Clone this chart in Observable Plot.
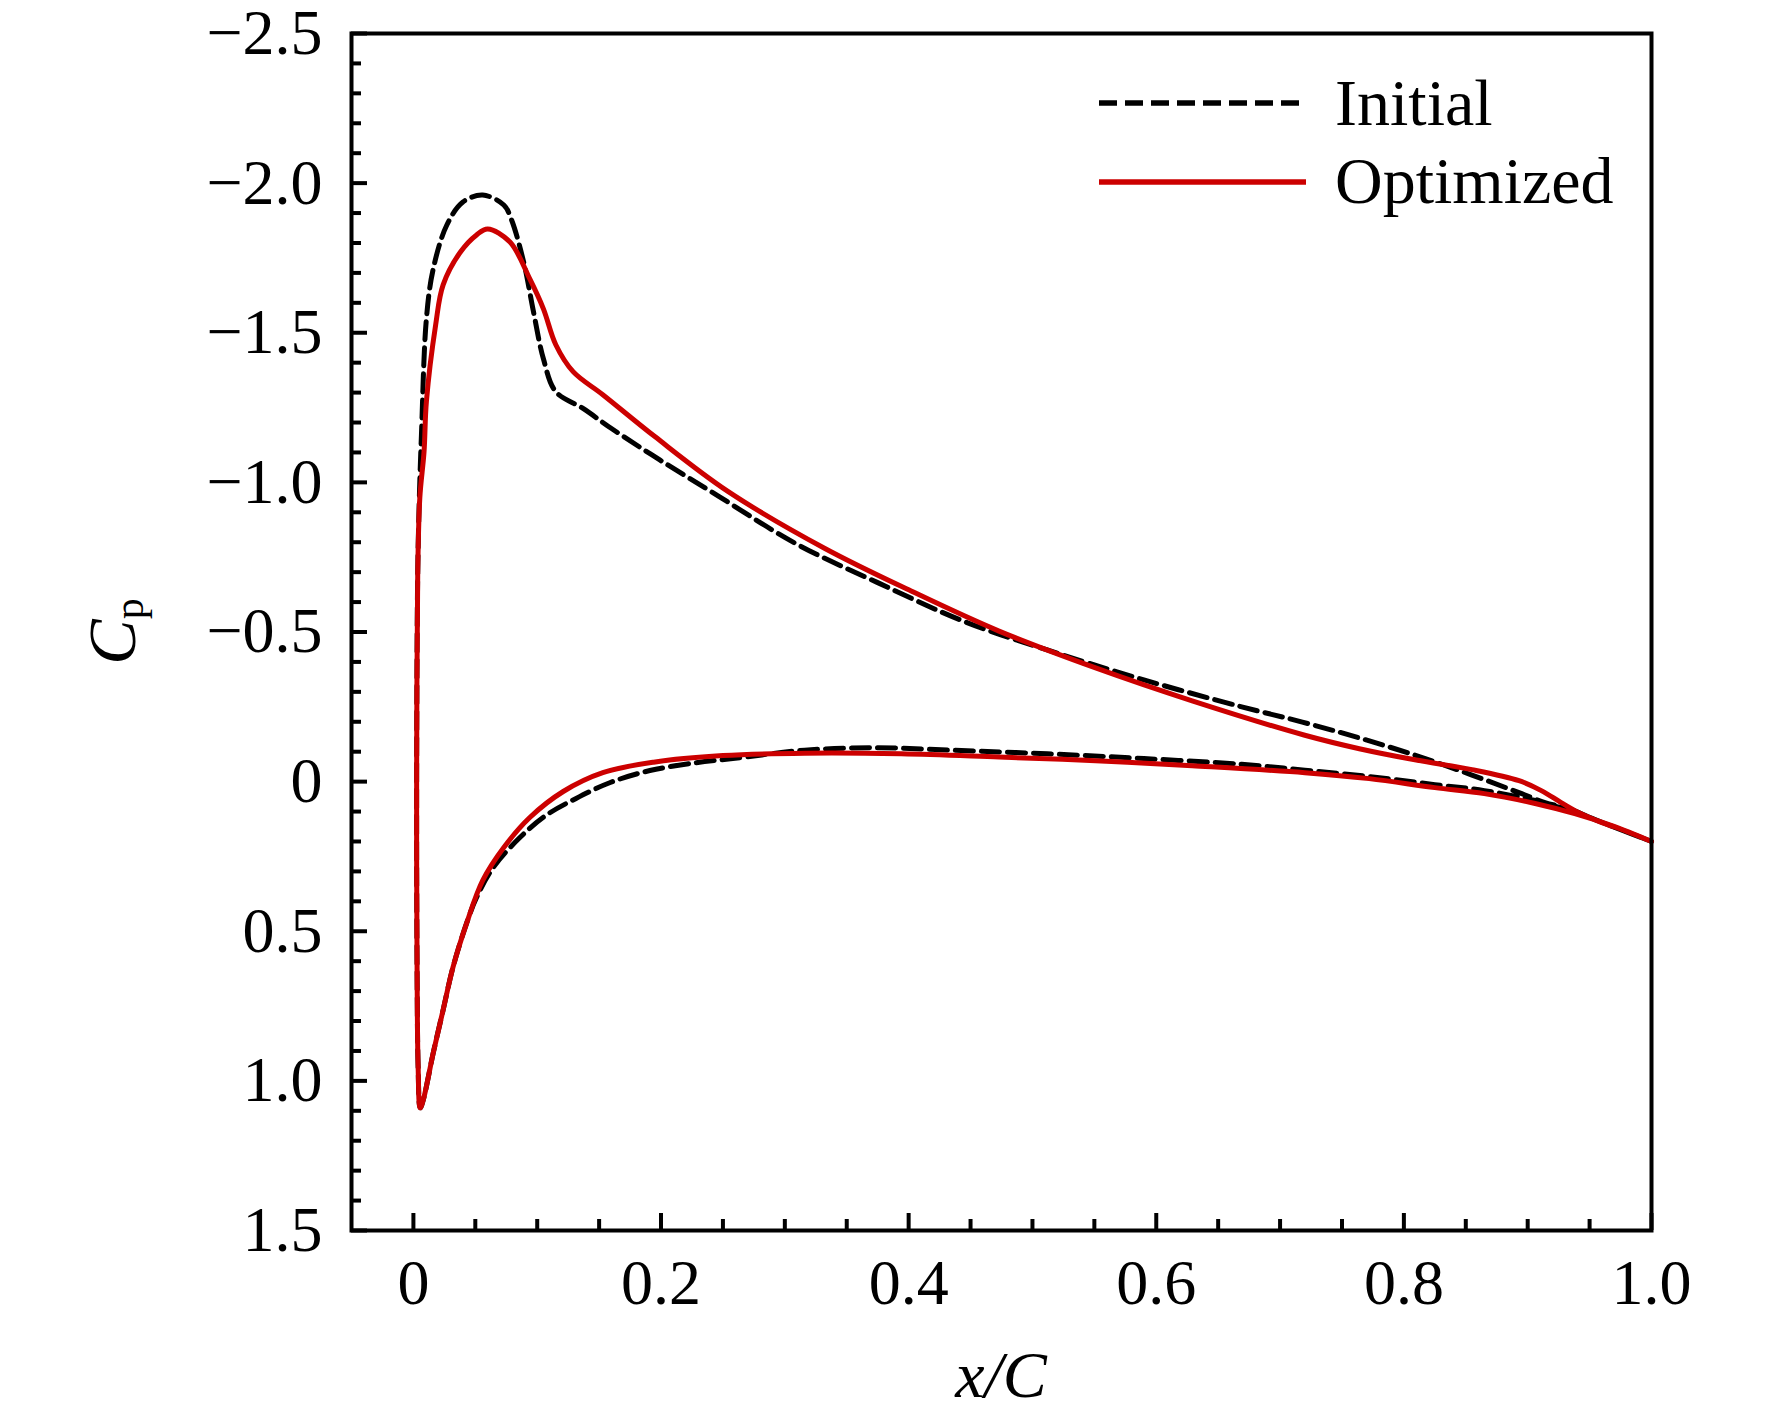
<!DOCTYPE html>
<html><head><meta charset="utf-8">
<script src="https://cdn.jsdelivr.net/npm/d3@7"></script>
<script src="https://cdn.jsdelivr.net/npm/@observablehq/plot@0.6"></script>
<style>body{margin:0;background:#fff}</style>
</head><body><div id="chart"></div>
<script>
// Initial airfoil Cp — upper surface (from stagnation point to trailing edge)
const initialUpperX  = [0.0055, 0.0038, 0.003, 0.0026, 0.0028, 0.0035, 0.0048, 0.0065, 0.0105, 0.016, 0.027, 0.040, 0.056, 0.073, 0.079, 0.089, 0.097, 0.105, 0.115, 0.137, 0.160, 0.199, 0.246, 0.309, 0.375, 0.445, 0.512, 0.590, 0.669, 0.718, 0.764, 0.810, 0.855, 0.893, 0.914, 0.933, 0.952, 0.973, 1.000];
const initialUpperCp = [1.09, 0.95, 0.65, 0.20, -0.30, -0.70, -0.95, -1.16, -1.547, -1.713, -1.86, -1.937, -1.96, -1.927, -1.88, -1.737, -1.57, -1.413, -1.303, -1.247, -1.18, -1.075, -0.955, -0.795, -0.665, -0.535, -0.44, -0.34, -0.25, -0.199, -0.146, -0.087, -0.022, 0.037, 0.07, 0.09, 0.123, 0.157, 0.20];
// Initial — lower surface (from stagnation point to trailing edge)
const initialLowerX  = [0.0055, 0.008, 0.016, 0.024, 0.032, 0.043, 0.051, 0.0645, 0.086, 0.107, 0.131, 0.159, 0.191, 0.228, 0.258, 0.316, 0.375, 0.434, 0.512, 0.590, 0.669, 0.720, 0.772, 0.825, 0.865, 0.906, 0.927, 0.933, 0.952, 0.973, 1.000];
const initialLowerCp = [1.09, 1.063, 0.907, 0.763, 0.62, 0.473, 0.387, 0.287, 0.187, 0.113, 0.057, 0.003, -0.037, -0.063, -0.077, -0.105, -0.113, -0.105, -0.093, -0.077, -0.058, -0.038, -0.017, 0.01, 0.03, 0.063, 0.087, 0.09, 0.123, 0.157, 0.20];
// Optimized — upper surface
const optimizedUpperX  = [0.0055, 0.0038, 0.003, 0.0026, 0.0028, 0.0035, 0.0052, 0.0086, 0.0105, 0.018, 0.024, 0.038, 0.051, 0.060, 0.078, 0.094, 0.105, 0.115, 0.129, 0.153, 0.195, 0.254, 0.332, 0.402, 0.473, 0.551, 0.629, 0.720, 0.764, 0.810, 0.855, 0.893, 0.911, 0.927, 0.941, 0.960, 0.978, 1.000];
const optimizedUpperCp = [1.09, 0.95, 0.65, 0.20, -0.30, -0.70, -0.95, -1.103, -1.27, -1.527, -1.66, -1.77, -1.827, -1.847, -1.803, -1.68, -1.58, -1.46, -1.37, -1.293, -1.153, -0.97, -0.78, -0.637, -0.503, -0.38, -0.27, -0.155, -0.11, -0.072, -0.04, -0.003, 0.03, 0.07, 0.103, 0.137, 0.163, 0.20];
// Optimized — lower surface
const optimizedLowerX  = [0.0055, 0.008, 0.016, 0.024, 0.032, 0.043, 0.056, 0.073, 0.094, 0.121, 0.153, 0.194, 0.250, 0.316, 0.394, 0.473, 0.551, 0.629, 0.720, 0.772, 0.825, 0.865, 0.906, 0.938, 0.968, 1.000];
const optimizedLowerCp = [1.09, 1.063, 0.907, 0.763, 0.62, 0.473, 0.33, 0.22, 0.12, 0.033, -0.03, -0.065, -0.087, -0.095, -0.093, -0.082, -0.07, -0.053, -0.03, -0.01, 0.02, 0.04, 0.073, 0.107, 0.147, 0.20];

// Axis ticks and labels
const xMajorTicks = [0, 0.2, 0.4, 0.6, 0.8, 1.0];
const xTickLabels = ["0", "0.2", "0.4", "0.6", "0.8", "1.0"];
const xMinorTicks = [0.05, 0.1, 0.15, 0.25, 0.3, 0.35, 0.45, 0.5, 0.55, 0.65, 0.7, 0.75, 0.85, 0.9, 0.95];
const yMajorTicks = [-2.5, -2.0, -1.5, -1.0, -0.5, 0, 0.5, 1.0, 1.5];
const yTickLabels = ["\u22122.5", "\u22122.0", "\u22121.5", "\u22121.0", "\u22120.5", "0", "0.5", "1.0", "1.5"];
const yMinorTicks = [-2.4, -2.3, -2.2, -2.1, -1.9, -1.8, -1.7, -1.6, -1.4, -1.3, -1.2, -1.1, -0.9, -0.8, -0.7, -0.6, -0.4, -0.3, -0.2, -0.1, 0.1, 0.2, 0.3, 0.4, 0.6, 0.7, 0.8, 0.9, 1.1, 1.2, 1.3, 1.4];
const seriesNames = ["Initial", "Optimized"];

function loop(ux, ucp, lx, lcp) {
  const pts = [];
  for (let i = ux.length - 1; i >= 0; i--) pts.push({x: ux[i], cp: ucp[i]});
  for (let i = 1; i < lx.length; i++) pts.push({x: lx[i], cp: lcp[i]});
  return pts;
}
const initialData = loop(initialUpperX, initialUpperCp, initialLowerX, initialLowerCp);
const optimizedData = loop(optimizedUpperX, optimizedUpperCp, optimizedLowerX, optimizedLowerCp);

const W = 1772, H = 1418;
const mL = 351, mR = 121, mT = 33, mB = 188;
const RED = "#cc0000";
const serif = "'Liberation Serif', 'Times New Roman', serif";

const fig = Plot.plot({
  width: W, height: H,
  marginLeft: mL, marginRight: mR, marginTop: mT, marginBottom: mB,
  style: {fontFamily: serif, fontSize: "64px", background: "white", color: "black", overflow: "visible"},
  x: {domain: [-0.05, 1.0]},
  y: {domain: [1.5, -2.5]},
  marks: [
    Plot.line(initialData, {x: "x", y: "cp", stroke: "black", strokeWidth: 5, strokeDasharray: "18,8", curve: "catmull-rom", strokeLinejoin: "round"}),
    Plot.line(optimizedData, {x: "x", y: "cp", stroke: RED, strokeWidth: 5, curve: "catmull-rom", strokeLinejoin: "round"}),
    Plot.axisX(xMajorTicks, {anchor: "bottom", tickSize: -17, strokeWidth: 4, fill: "none", label: null}),
    Plot.axisX(xMinorTicks, {anchor: "bottom", tickSize: -11, strokeWidth: 4, fill: "none", label: null}),
    Plot.axisX(xMajorTicks, {anchor: "bottom", tickSize: 0, tickPadding: 28, fontSize: 64, tickFormat: d => xTickLabels[xMajorTicks.indexOf(d)], label: null}),
    Plot.axisY(yMajorTicks, {anchor: "left", tickSize: -16, strokeWidth: 4, fill: "none", label: null}),
    Plot.axisY(yMinorTicks, {anchor: "left", tickSize: -10, strokeWidth: 4, fill: "none", label: null}),
    Plot.axisY(yMajorTicks, {anchor: "left", tickSize: 0, tickPadding: 29, fontSize: 64, tickFormat: d => yTickLabels[yMajorTicks.indexOf(d)], label: null}),
    Plot.frame({stroke: "black", strokeWidth: 4})
  ]
});

const svg = d3.select(fig);
// y-axis label C_p
const yl = svg.append("text")
  .attr("transform", `translate(135, ${(mT + H - mB) / 2}) rotate(-90)`)
  .attr("text-anchor", "middle")
  .attr("font-family", serif).attr("font-size", 68).attr("fill", "black");
yl.append("tspan").attr("font-style", "italic").text("C");
yl.append("tspan").attr("font-size", 42).attr("dy", 8).text("p");
// x-axis label
svg.append("text")
  .attr("x", (mL + W - mR) / 2).attr("y", 1397)
  .attr("text-anchor", "middle")
  .attr("font-family", serif).attr("font-size", 66).attr("font-style", "italic").attr("fill", "black")
  .text("x/C");
// legend
const lg = svg.append("g");
lg.append("line").attr("x1", 1099).attr("x2", 1306).attr("y1", 103).attr("y2", 103)
  .attr("stroke", "black").attr("stroke-width", 5.5).attr("stroke-dasharray", "18,8");
lg.append("line").attr("x1", 1099).attr("x2", 1306).attr("y1", 182).attr("y2", 182)
  .attr("stroke", RED).attr("stroke-width", 5.5);
lg.append("text").attr("x", 1335).attr("y", 125).attr("text-anchor", "start").attr("font-family", serif).attr("font-size", 66).attr("fill", "black").text(seriesNames[0]);
lg.append("text").attr("x", 1335).attr("y", 203).attr("text-anchor", "start").attr("font-family", serif).attr("font-size", 66).attr("fill", "black").text(seriesNames[1]);

document.getElementById("chart").appendChild(fig);
</script></body></html>
